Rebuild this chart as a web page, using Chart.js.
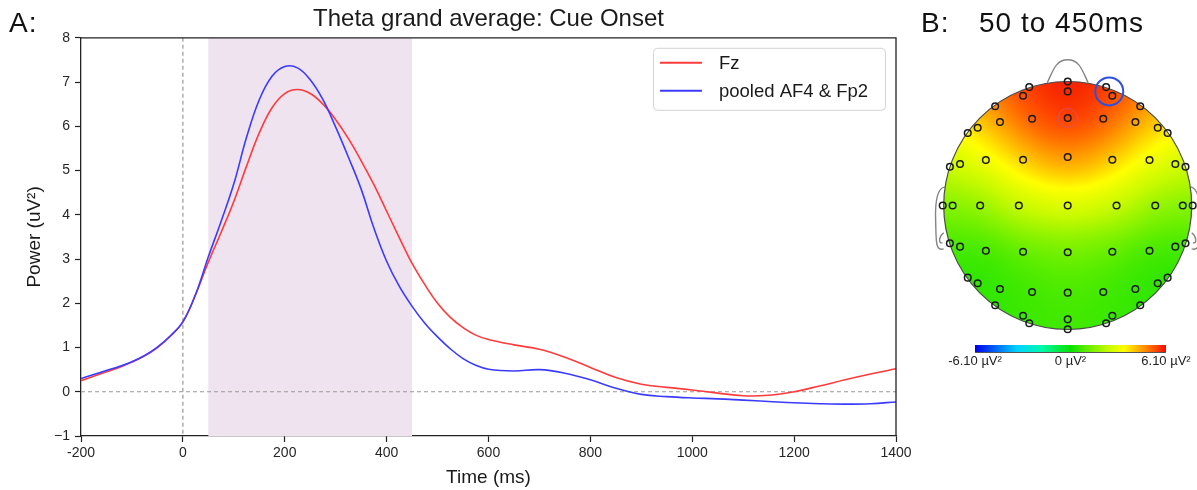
<!DOCTYPE html>
<html>
<head>
<meta charset="utf-8">
<title>Theta grand average: Cue Onset</title>
<script src="https://cdn.jsdelivr.net/npm/chart.js@4.4.1/dist/chart.umd.min.js"></script>
<style>
  body { margin: 0; background: #fff; font-family: 'Liberation Sans', Arial, sans-serif; }
  #page { position: relative; width: 1197px; height: 490px; overflow: hidden; }
  .box { position: absolute; top: 0; }
  .panel { position: absolute; top: 9px; font-size: 28px; line-height: 28px; letter-spacing: 1px; color: #111; white-space: nowrap; }
</style>
</head>
<body>
<div id="page">
  <div class="box" style="left:0;width:920px;height:490px"><canvas id="lineChart" width="920" height="490"></canvas></div>
  <div class="box" style="left:915px;width:282px;height:490px"><canvas id="topoChart" width="282" height="490"></canvas></div>
  <div class="panel" style="left:9px">A:</div>
  <div class="panel" style="left:921px">B:</div>
  <div class="panel" style="left:979px">50 to 450ms</div>
</div>
<script>
// --- panel A: theta power over time (ms), uV^2 ---
const timeMs = [-200, -175, -150, -125, -100, -75, -50, -25, 0, 25, 50, 75, 100, 125, 150, 175, 200,
  225, 250, 275, 300, 325, 350, 375, 400, 425, 450, 475, 500, 525, 550, 575, 600,
  650, 700, 750, 800, 850, 900, 950, 1000, 1050, 1100, 1150, 1200, 1250, 1300, 1350, 1400];
const fzPower = [0.25, 0.35, 0.45, 0.55, 0.67, 0.81, 1.0, 1.25, 1.58, 2.2, 2.93, 3.6, 4.3, 5.1, 5.85, 6.42, 6.74,
  6.83, 6.74, 6.5, 6.15, 5.72, 5.22, 4.68, 4.08, 3.48, 2.9, 2.42, 2.0, 1.68, 1.45, 1.28, 1.18,
  1.06, 0.96, 0.78, 0.55, 0.32, 0.17, 0.1, 0.04, -0.03, -0.09, -0.08, 0.0, 0.13, 0.27, 0.4, 0.52];
const pooledPower = [0.30, 0.39, 0.48, 0.57, 0.68, 0.82, 1.01, 1.26, 1.58, 2.2, 3.05, 3.85, 4.7, 5.75, 6.6, 7.13, 7.35,
  7.32, 7.05, 6.6, 5.98, 5.3, 4.58, 3.7, 2.95, 2.38, 1.93, 1.55, 1.24, 0.97, 0.75, 0.6, 0.51,
  0.47, 0.5, 0.42, 0.27, 0.08, -0.06, -0.11, -0.14, -0.16, -0.19, -0.22, -0.25, -0.27, -0.28, -0.27, -0.23];
const seriesNames = ['Fz', 'pooled AF4 & Fp2'];
const shadeWindow = [50, 450];
const xTickValues = [-200, 0, 200, 400, 600, 800, 1000, 1200, 1400];
const yTickValues = [-1, 0, 1, 2, 3, 4, 5, 6, 7, 8];

// --- panel B: electrode layout (head units) and mean power 50-450 ms ---
const elecX = [
  0, 0, -0.31, -0.36, 0.31, 0.36,
  -0.585, 0.585,
  -0.806, -0.726, -0.546, -0.287, 0, 0.287, 0.546, 0.726, 0.806,
  -0.95, -0.868, -0.66, -0.36, 0, 0.36, 0.66, 0.868, 0.95,
  -1.008, -0.928, -0.706, -0.394, 0, 0.394, 0.706, 0.928, 1.008,
  -0.95, -0.868, -0.66, -0.36, 0, 0.36, 0.66, 0.868, 0.95,
  -0.806, -0.726, -0.546, -0.287, 0, 0.287, 0.546, 0.726, 0.806,
  -0.585, 0.585,
  -0.36, -0.31, 0, 0, 0.31, 0.36];
const elecY = [
  1.0, 0.92, 0.955, 0.885, 0.955, 0.885,
  0.80, 0.80,
  0.585, 0.627, 0.673, 0.70, 0.706, 0.70, 0.673, 0.627, 0.585,
  0.313, 0.335, 0.367, 0.369, 0.391, 0.369, 0.367, 0.335, 0.313,
  0, 0, 0, 0, 0, 0, 0, 0, 0,
  -0.305, -0.332, -0.365, -0.373, -0.377, -0.373, -0.365, -0.332, -0.305,
  -0.582, -0.627, -0.673, -0.698, -0.703, -0.698, -0.673, -0.627, -0.582,
  -0.805, -0.805,
  -0.889, -0.95, -0.918, -0.998, -0.95, -0.889];
const elecPower = [
  6.1, 6.0, 5.75, 5.6, 5.75, 5.6,
  5.1, 5.1,
  3.5, 3.8, 4.5, 5.3, 5.6, 5.3, 4.5, 3.8, 3.5,
  2.5, 2.6, 3.0, 4.0, 4.6, 4.0, 3.0, 2.6, 2.5,
  1.4, 1.5, 1.9, 2.6, 2.9, 2.6, 1.9, 1.5, 1.4,
  0.6, 0.7, 0.9, 1.2, 1.3, 1.2, 0.9, 0.7, 0.6,
  0.2, 0.35, 0.6, 0.8, 0.9, 0.8, 0.6, 0.35, 0.2,
  0.4, 0.4,
  0.55, 0.55, 0.65, 0.65, 0.55, 0.55];
const fzIndex = 12;
const pooledIdx = [4, 5];
const cbarTicks = [-6.1, 0, 6.1];
const cbarLabels = ['-6.10 µV²', '0 µV²', '6.10 µV²'];

const FONT = "'Liberation Sans', Arial, sans-serif";
Chart.defaults.font.family = FONT;
Chart.defaults.color = '#262626';

const toPoints = ys => timeMs.map((t, i) => ({ x: t, y: ys[i] }));

// shaded window, dashed zero lines, frame and legend box
const cuePlugin = {
  id: 'cueWindow',
  beforeDatasetsDraw(chart) {
    const { ctx, chartArea: a, scales: { x, y } } = chart;
    ctx.save();
    const x0 = x.getPixelForValue(shadeWindow[0]);
    const x1 = x.getPixelForValue(shadeWindow[1]);
    ctx.fillStyle = '#efe3f0';
    ctx.fillRect(x0, a.top, x1 - x0, a.bottom - a.top);
    ctx.strokeStyle = '#999';
    ctx.lineWidth = 1.2;
    ctx.setLineDash([4, 3]);
    const zx = x.getPixelForValue(0), zy = y.getPixelForValue(0);
    ctx.beginPath();
    ctx.moveTo(zx, a.top); ctx.lineTo(zx, a.bottom);
    ctx.moveTo(a.left, zy); ctx.lineTo(a.right, zy);
    ctx.stroke();
    ctx.restore();
  },
  afterDatasetsDraw(chart) {
    const { ctx, chartArea: a } = chart;
    ctx.save();
    ctx.strokeStyle = '#222';
    ctx.lineWidth = 1.3;
    ctx.beginPath();
    ctx.moveTo(a.left, a.top); ctx.lineTo(a.right, a.top); ctx.lineTo(a.right, a.bottom);
    ctx.stroke();

    const bx = a.right - 243, by = a.top + 10, bw = 232, bh = 62;
    ctx.fillStyle = 'rgba(255,255,255,0.85)';
    ctx.strokeStyle = '#d3d3d3';
    ctx.lineWidth = 1;
    ctx.beginPath();
    ctx.roundRect(bx + 0.5, by + 0.5, bw, bh, 4);
    ctx.fill(); ctx.stroke();
    ctx.font = '18.5px ' + FONT;
    ctx.textBaseline = 'middle';
    chart.data.datasets.forEach((ds, i) => {
      const ly = by + 15 + i * 28;
      ctx.strokeStyle = ds.borderColor;
      ctx.lineWidth = 2;
      ctx.beginPath(); ctx.moveTo(bx + 7, ly); ctx.lineTo(bx + 49, ly); ctx.stroke();
      ctx.fillStyle = '#1a1a1a';
      ctx.fillText(ds.label, bx + 66, ly + 1.5);
    });
    ctx.restore();
  }
};

new Chart(document.getElementById('lineChart').getContext('2d'), {
  type: 'line',
  data: {
    datasets: [
      { label: seriesNames[0], data: toPoints(fzPower), borderColor: '#ff3b3b', order: 1 },
      { label: seriesNames[1], data: toPoints(pooledPower), borderColor: '#3b3bff', order: 0 }
    ]
  },
  options: {
    responsive: false,
    animation: false,
    parsing: false,
    layout: { padding: { left: 0, right: 24, top: 0, bottom: 0 } },
    elements: {
      line: { borderWidth: 1.6, tension: 0.4, fill: false },
      point: { radius: 0, hoverRadius: 0 }
    },
    scales: {
      x: {
        type: 'linear', min: -200, max: 1400,
        afterBuildTicks: s => { s.ticks = xTickValues.map(v => ({ value: v })); },
        afterFit: s => { s.height = 54; },
        ticks: { font: { size: 14 }, color: '#262626', padding: 3, maxRotation: 0, callback: v => String(v) },
        grid: { drawOnChartArea: false, drawTicks: true, tickLength: 6, tickColor: '#222', tickWidth: 1.2 },
        border: { color: '#222', width: 1.3 },
        title: { display: true, text: 'Time (ms)', font: { size: 19 }, color: '#1a1a1a', padding: { top: 0, bottom: 1 } }
      },
      y: {
        type: 'linear', min: -1, max: 8,
        afterBuildTicks: s => { s.ticks = yTickValues.map(v => ({ value: v })); },
        afterFit: s => { s.width = 81; },
        ticks: { font: { size: 14 }, color: '#262626', padding: 5, callback: v => v < 0 ? '\u2212' + Math.abs(v) : String(v) },
        grid: { drawOnChartArea: false, drawTicks: true, tickLength: 6, tickColor: '#222', tickWidth: 1.2 },
        border: { color: '#222', width: 1.3 },
        title: { display: true, text: 'Power (uV²)', font: { size: 19 }, color: '#1a1a1a', padding: { top: 23, bottom: 0 } }
      }
    },
    plugins: {
      legend: { display: false },
      tooltip: { enabled: false },
      title: {
        display: true, text: 'Theta grand average: Cue Onset', fullSize: false,
        font: { size: 24, weight: 'normal' }, color: '#1a1a1a', padding: { top: 5, bottom: 4 }
      }
    }
  },
  plugins: [cuePlugin]
});

// --- topographic map ---
const VMAX = 6.1;
function cmap(t) {
  const s = [[0, 0, 0, 235], [0.22, 0, 210, 255], [0.35, 0, 250, 170], [0.5, 10, 225, 0], [0.6, 110, 240, 0],
    [0.7, 200, 250, 0], [0.78, 255, 255, 0], [0.88, 255, 150, 0], [0.95, 255, 70, 0], [1, 240, 10, 0]];
  t = Math.max(0, Math.min(1, t));
  for (let i = 1; i < s.length; i++) {
    if (t <= s[i][0]) {
      const f = (t - s[i - 1][0]) / (s[i][0] - s[i - 1][0]);
      return [1, 2, 3].map(k => Math.round(s[i - 1][k] + f * (s[i][k] - s[i - 1][k])));
    }
  }
  return [240, 10, 0];
}

function buildMap(r) {
  const size = Math.ceil(2 * r) + 2;
  const off = document.createElement('canvas');
  off.width = size; off.height = size;
  const octx = off.getContext('2d');
  const img = octx.createImageData(size, size);
  const sig2 = 2 * 0.2 * 0.2;
  const c = size / 2;
  for (let j = 0; j < size; j++) {
    for (let i = 0; i < size; i++) {
      const u = (i + 0.5 - c) / r, v = (c - j - 0.5) / r;
      if (u * u + v * v > 1.1) continue;
      let sw = 0, sv = 0;
      for (let k = 0; k < elecX.length; k++) {
        const dx = u - elecX[k], dy = v - elecY[k];
        const w = Math.exp(-(dx * dx + dy * dy) / sig2);
        sw += w; sv += w * elecPower[k];
      }
      const col = cmap((sv / sw + VMAX) / (2 * VMAX));
      const p = (j * size + i) * 4;
      img.data[p] = col[0]; img.data[p + 1] = col[1]; img.data[p + 2] = col[2]; img.data[p + 3] = 255;
    }
  }
  octx.putImageData(img, 0, 0);
  return off;
}

const topoPlugin = {
  id: 'topoMap',
  beforeDatasetsDraw(chart) {
    const { ctx, scales: { x, y } } = chart;
    const P = (u, v) => [x.getPixelForValue(u), y.getPixelForValue(v)];
    const [cx, cy] = P(0, 0);
    const r = x.getPixelForValue(1) - cx;
    if (!chart.$map) chart.$map = buildMap(r);
    const m = chart.$map;
    ctx.save();
    ctx.beginPath(); ctx.arc(cx, cy, r, 0, Math.PI * 2); ctx.clip();
    ctx.drawImage(m, cx - m.width / 2, cy - m.height / 2);
    ctx.restore();

    ctx.save();
    ctx.strokeStyle = '#858585';
    ctx.lineWidth = 1.4;
    // nose
    ctx.beginPath();
    ctx.moveTo(...P(-0.165, 0.99));
    ctx.bezierCurveTo(...P(-0.12, 1.08), ...P(-0.1, 1.175), ...P(0, 1.175));
    ctx.bezierCurveTo(...P(0.1, 1.175), ...P(0.12, 1.08), ...P(0.165, 0.99));
    ctx.stroke();
    // ears
    [-1, 1].forEach(sd => {
      ctx.beginPath();
      ctx.moveTo(...P(sd * 0.99, 0.15));
      ctx.bezierCurveTo(...P(sd * 1.055, 0.14), ...P(sd * 1.07, 0.02), ...P(sd * 1.065, -0.12));
      ctx.bezierCurveTo(...P(sd * 1.06, -0.28), ...P(sd * 1.07, -0.37), ...P(sd * 1.0, -0.35));
      ctx.stroke();
      ctx.beginPath();
      ctx.moveTo(...P(sd * 1.0, -0.22));
      ctx.bezierCurveTo(...P(sd * 1.04, -0.25), ...P(sd * 1.045, -0.31), ...P(sd * 1.01, -0.3));
      ctx.stroke();
    });
    // head outline
    ctx.strokeStyle = '#4a4a4a';
    ctx.lineWidth = 1.2;
    ctx.beginPath(); ctx.arc(cx, cy, r, 0, Math.PI * 2); ctx.stroke();
    ctx.restore();
  },
  afterDraw(chart) {
    const { ctx, scales: { x, y } } = chart;
    const x0 = Math.round(x.getPixelForValue(-0.748)), x1 = Math.round(x.getPixelForValue(0.79));
    const y0 = Math.round(y.getPixelForValue(-1.127)), y1 = Math.round(y.getPixelForValue(-1.181));
    ctx.save();
    for (let px = x0; px < x1; px++) {
      const c = cmap((px - x0 + 0.5) / (x1 - x0));
      ctx.fillStyle = `rgb(${c[0]},${c[1]},${c[2]})`;
      ctx.fillRect(px, y0, 1, y1 - y0);
    }
    ctx.strokeStyle = '#555';
    ctx.lineWidth = 1;
    ctx.beginPath(); ctx.moveTo(x0, y1 + 0.5); ctx.lineTo(x1, y1 + 0.5); ctx.stroke();
    ctx.fillStyle = '#222';
    ctx.font = '13px ' + FONT;
    ctx.textAlign = 'center';
    ctx.textBaseline = 'middle';
    const lo = cbarTicks[0], hi = cbarTicks[cbarTicks.length - 1];
    cbarTicks.forEach((v, i) => {
      const px = x0 + (v - lo) / (hi - lo) * (x1 - x0);
      ctx.fillText(cbarLabels[i], px, y1 + 9.5);
    });
    ctx.restore();
  }
};

const H = 124;
const mark = idx => {
  const ix = idx.reduce((s, k) => s + elecX[k], 0) / idx.length;
  const iy = idx.reduce((s, k) => s + elecY[k], 0) / idx.length;
  return [{ x: ix, y: iy }];
};

new Chart(document.getElementById('topoChart').getContext('2d'), {
  type: 'scatter',
  data: {
    datasets: [
      {
        label: 'electrodes',
        data: elecX.map((u, i) => ({ x: u, y: elecY[i] })),
        pointRadius: 3.3, pointBorderWidth: 1.5,
        pointBorderColor: '#1a1a1a', pointBackgroundColor: 'rgba(0,0,0,0)', clip: false
      },
      {
        label: 'Fz',
        data: mark([fzIndex]),
        pointRadius: 9.5, pointBorderWidth: 1,
        pointBorderColor: '#e0505a', pointBackgroundColor: 'rgba(0,0,0,0)', clip: false
      },
      {
        label: 'pooled AF4 & Fp2',
        data: mark(pooledIdx),
        pointRadius: 14, pointBorderWidth: 2,
        pointBorderColor: '#2f4fe0', pointBackgroundColor: 'rgba(0,0,0,0)', clip: false
      }
    ]
  },
  options: {
    responsive: false,
    animation: false,
    layout: { padding: 0, autoPadding: false },
    scales: {
      x: { type: 'linear', display: false, min: -152.7 / H, max: (282 - 152.7) / H },
      y: { type: 'linear', display: false, min: -(490 - 205.5) / H, max: 205.5 / H }
    },
    plugins: { legend: { display: false }, tooltip: { enabled: false } }
  },
  plugins: [topoPlugin]
});
</script>
</body>
</html>
